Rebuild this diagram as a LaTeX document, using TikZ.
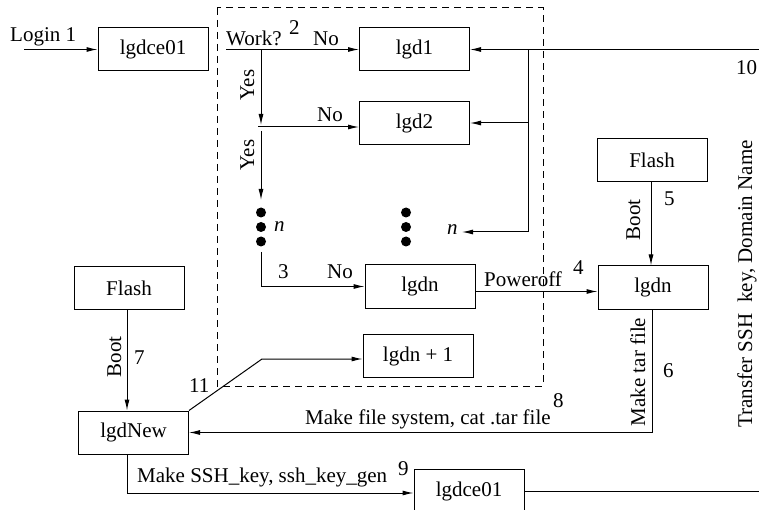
\documentclass[tikz,border=0pt]{standalone}
\usepackage{fontspec}
\setmainfont{Liberation Serif}
\usetikzlibrary{arrows.meta}
\begin{document}
\begin{tikzpicture}[x=1pt,y=-1pt,
  every node/.style={font=\fontsize{21}{25}\selectfont},
  box/.style={draw,line width=1pt,minimum width=110pt,minimum height=43pt,inner sep=0pt},
  link/.style={line width=1pt},
  arr/.style={link,-{Latex[length=11pt,width=5pt]}},
  lbl/.style={inner sep=0pt,anchor=base west},
  vlbl/.style={inner sep=0pt,anchor=base,rotate=90},
  dot/.style={circle,fill,inner sep=0pt,minimum size=10pt},
  frame/.style={line width=1pt,dash pattern=on 7pt off 5pt}]
\useasboundingbox (0,0) rectangle (759,510);

% boxes
\node[box] (ce1)   at (153,49.5)  {lgdce01};
\node[box] (lgdA)  at (414.5,49.5){lgd1};
\node[box] (lgdB)  at (414.5,123) {lgd2};
\node[box] (lgdn)  at (420,286.5) {lgdn};
\node[box] (lgdp)  at (418,356)   {lgdn + 1};
\node[box] (flR)   at (652,160.5) {Flash};
\node[box] (lgdnR) at (653,287.5) {lgdn};
\node[box] (flL)   at (129,288)   {Flash};
\node[box] (new)   at (133.5,432.5){lgdNew};
\node[box] (ce2)   at (469,491)   {lgdce01};

% dashed frame round the worker nodes
\draw[frame] (217,8) rectangle (543,386);

% free ends and branch points
\coordinate (login) at (24,49.5);
\coordinate (work)  at (226,49.5);
\coordinate (yA)    at (261,49.5);
\coordinate (yB)    at (261,125);
\coordinate (noB)   at (258,127);
\coordinate (yC)    at (261,131);
\coordinate (yD)    at (261,200);
\coordinate (yE)    at (261,252);
\coordinate (edgeT) at (759,49.5);
\coordinate (brT)   at (528,49.5);
\coordinate (brB)   at (528,123);
\coordinate (brN)   at (528,232);
\coordinate (nEnd)  at (462,232);
\coordinate (bend)  at (262,359);
\coordinate (edgeB) at (759,491);

% dots
\node[dot] (d1) at (261,212.5) {};
\node[dot] (d2) at (261,227) {};
\node[dot] (d3) at (261,241.5) {};
\node[dot] (m1) at (406,212.5) {};
\node[dot] (m2) at (406,227) {};
\node[dot] (m3) at (406,241.5) {};

% connectors
\draw[arr] (login) -- (ce1.west);
\draw[arr] (work) -- (lgdA.west);
\draw[arr] (yA) -- (yB);
\draw[arr] (noB) -- (noB -| lgdB.west);
\draw[arr] (yC) -- (yD);
\draw[arr] (yE) |- (lgdn.west);
\draw[arr] (edgeT) -- (lgdA.east);
\draw[link] (brT) -- (brN);
\draw[arr] (brN) -- (nEnd);
\draw[arr] (brB) -- (lgdB.east);
\draw[arr] ([yshift=-5pt]lgdn.east) -- ([yshift=-5pt]lgdn.east -| lgdnR.west);
\draw[arr] ([xshift=-1pt]flR.south) -- ([xshift=-1pt]flR.south |- lgdnR.north);
\draw[arr] ([xshift=-1pt]lgdnR.south) |- (new.east);
\draw[arr] ([xshift=-2pt]flL.south) -- ([xshift=-2pt]flL.south |- new.north);
\draw[arr] ([xshift=-6.5pt]new.south) |- ([yshift=-2pt]ce2.west);
\draw[arr] (new.north east) -- (bend) -- (bend -| lgdp.west);
\draw[link] (ce2.east |- edgeB) -- (edgeB);

% labels
\node[lbl] at (10,42) {Login 1};
\node[lbl] at (226,45.5) {Work?};
\node[lbl] at (289,35) {2};
\node[lbl] at (313,46) {No};
\node[lbl] at (317,122) {No};
\node[vlbl] at (254,85) {Yes};
\node[vlbl] at (254,155) {Yes};
\node[lbl] at (274,232) {\itshape n};
\node[lbl] at (447,235) {\itshape n};
\node[lbl] at (278,279) {3};
\node[lbl] at (327,279) {No};
\node[lbl] at (484,286) {Poweroff};
\node[lbl] at (573,275) {4};
\node[vlbl] at (640,220) {Boot};
\node[lbl] at (664,206) {5};
\node[vlbl] at (645,372) {Make tar file};
\node[lbl] at (663,377) {6};
\node[vlbl] at (752,284) {Transfer SSH\hspace{11pt}key, Domain Name};
\node[lbl] at (736,75) {10};
\node[vlbl] at (121,357) {Boot};
\node[lbl] at (134,364) {7};
\node[lbl] at (189,392) {11};
\node[lbl] at (305,424) {Make file system, cat .tar file};
\node[lbl] at (553,407) {8};
\node[lbl] at (137,482) {Make SSH\_key, ssh\_key\_gen};
\node[lbl] at (398,475) {9};
\end{tikzpicture}
\end{document}
